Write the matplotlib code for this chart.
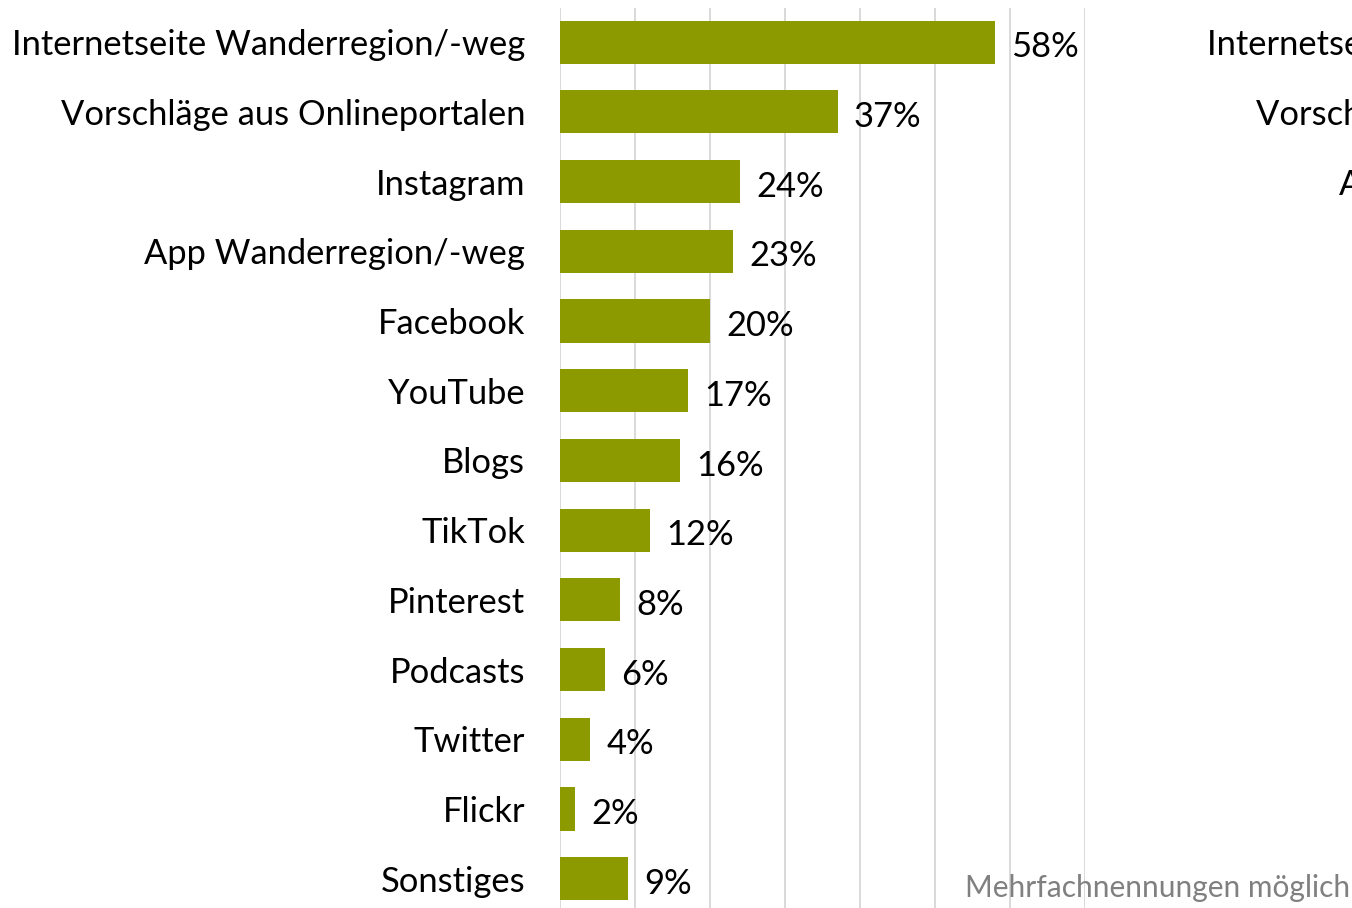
import matplotlib.pyplot as plt
import numpy as np

plt.rcParams['font.family'] = ['Lato', 'DejaVu Sans']

# data (Mehrfachnennungen, in %)
kategorien = ['Internetseite Wanderregion/-weg', 'Vorschläge aus Onlineportalen',
              'Instagram', 'App Wanderregion/-weg', 'Facebook', 'YouTube', 'Blogs',
              'TikTok', 'Pinterest', 'Podcasts', 'Twitter', 'Flickr', 'Sonstiges']
werte = [58, 37, 24, 23, 20, 17, 16, 12, 8, 6, 4, 2, 9]

# second panel, only the first labels are visible at the right edge
kategorien2 = ['Internetseite Wanderregion/-weg', 'Vorschläge aus Onlineportalen',
               'App Wanderregion/-weg']

W, H = 1352, 908
fig = plt.figure(figsize=(W / 100, H / 100), dpi=100)

bar_col = '#8c9a00'
grid_col = '#d9d9d9'
fs = 24.8

ylo, yhi = 12.42, -0.49


def panel(left_px):
    ax = fig.add_axes([left_px / W, 0, 525 / W, (H - 8) / H])
    ax.set_xlim(0, 70)
    ax.set_ylim(ylo, yhi)
    ax.set_xticks(np.arange(0, 71, 10))
    ax.xaxis.grid(True, color=grid_col, lw=1.4)
    ax.set_axisbelow(True)
    for s in ax.spines.values():
        s.set_visible(False)
    ax.tick_params(axis='x', bottom=False, labelbottom=False)
    ax.tick_params(axis='y', length=0, pad=25, labelsize=fs)
    return ax


ax = panel(560)
pos = np.arange(len(kategorien))
ax.barh(pos, werte, height=0.62, color=bar_col)
ax.set_yticks(pos)
ax.set_yticklabels(kategorien)
for p, v in zip(pos, werte):
    ax.text(v + 2.2, p + 0.03, f'{v}%', va='center_baseline', ha='left', fontsize=fs, color='black')

ax2 = panel(560 + 1195)
ax2.set_yticks(np.arange(len(kategorien2)))
ax2.set_yticklabels(kategorien2)

fig.text(1350 / W, 1 - 888 / H, 'Mehrfachnennungen möglich', ha='right', va='center',
         fontsize=21.5, color='#808080')

plt.savefig('out.png', dpi=100)
